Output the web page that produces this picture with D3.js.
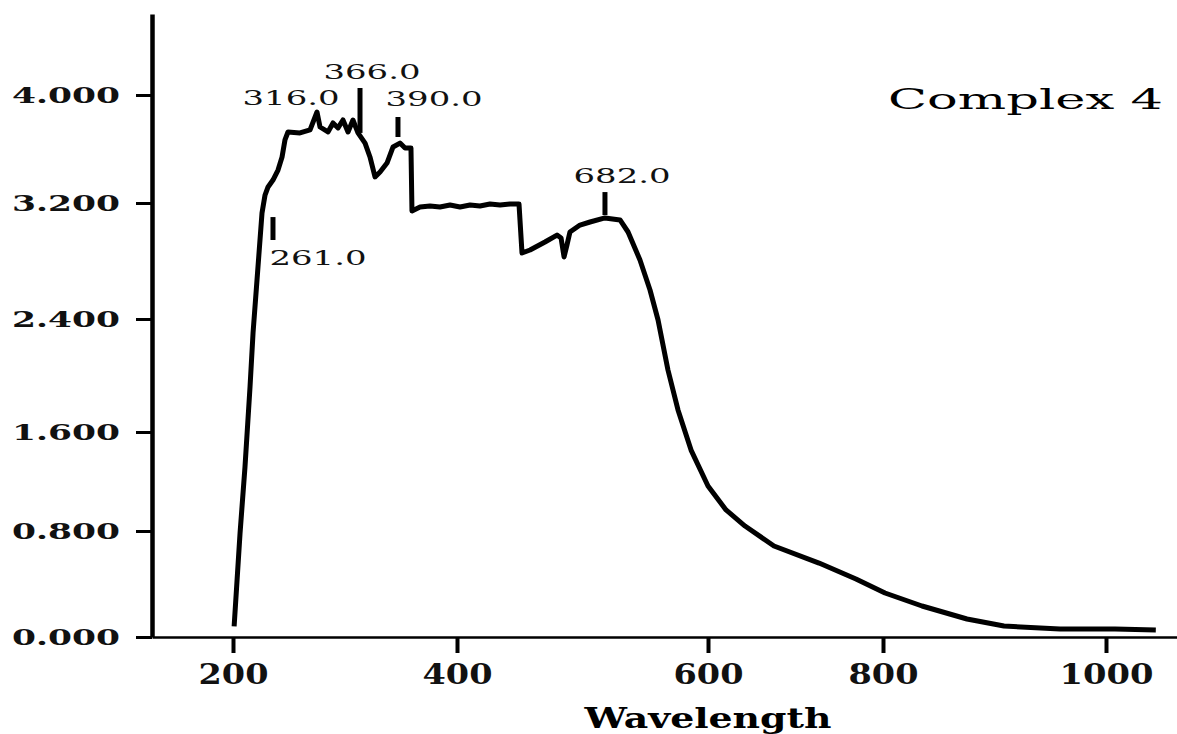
<!DOCTYPE html>
<html>
<head>
<meta charset="utf-8">
<style>
  body { margin: 0; background: #fff; }
  svg { display: block; }
  .axis text { font-family: "DejaVu Serif", serif; font-weight: bold; fill: #111; }
  .axis path, .axis line { stroke: #000; }
  .peak { font-family: "DejaVu Serif", serif; font-size: 21px; fill: #111; }
</style>
</head>
<body>
<script src="https://cdn.jsdelivr.net/npm/d3@7/dist/d3.min.js"></script>
<script>
// spectrum (wavelength vs absorbance)
var wavelength = [201, 206.3, 210.7, 215.2, 217.9, 222.3, 225.9, 228.6, 231.3, 235.7,
  240.2, 243.8, 246.4, 249.1, 259.8, 268.8, 275.0, 277.7, 284.8, 289.3,
  293.8, 298.2, 302.7, 307.1, 311.6, 317.9, 322.3, 326.8, 331.3, 337.5,
  342.9, 349.1, 353.6, 358.9, 359.8, 367.0, 375.9, 384.8, 393.8, 402.4,
  410.4, 418.3, 426.3, 434.3, 442.2, 449.4, 451.8, 458.2, 470.1, 479.7,
  482.9, 485.3, 487.6, 490.0, 498.0, 506.0, 517.9, 529.9, 536.3, 545.8,
  553.8, 560.2, 568.1, 576.1, 586.5, 600, 620.6, 642.3, 675.4, 726.9,
  769.1, 801.8, 835.0, 875.3, 908.5, 958.7, 1008.1, 1044.9];
var absorbance = [0.08, 0.785, 1.317, 1.919, 2.301, 2.759, 3.131, 3.259, 3.319, 3.370,
  3.444, 3.541, 3.667, 3.726, 3.719, 3.741, 3.874, 3.763, 3.726, 3.793,
  3.756, 3.815, 3.726, 3.815, 3.719, 3.644, 3.541, 3.393, 3.430, 3.496,
  3.615, 3.644, 3.607, 3.607, 3.145, 3.172, 3.179, 3.172, 3.186, 3.172,
  3.186, 3.179, 3.193, 3.186, 3.193, 3.193, 2.855, 2.876, 2.931, 2.979,
  2.959, 2.828, 2.910, 3.000, 3.048, 3.069, 3.097, 3.083, 3.000, 2.807,
  2.600, 2.393, 2.039, 1.756, 1.454, 1.164, 0.970, 0.840, 0.687, 0.558,
  0.438, 0.332, 0.234, 0.136, 0.083, 0.060, 0.060, 0.053];

// peak annotations
var peakNames = ["316.0", "366.0", "390.0", "682.0", "261.0"];
var peakTextX = [251.8, 324.1, 379.5, 531.5, 275.9];
var peakTextY = [3.926, 4.118, 3.919, 3.348, 2.772];
var markerX = [313.4, 347.3, 517.9, 235.7];
var markerTop = [4.052, 3.837, 3.281, 3.103];
var markerBottom = [3.719, 3.689, 3.117, 2.945];

var xTicks = [200, 400, 600, 800, 1000];
var yTicks = [0, 0.8, 1.6, 2.4, 3.2, 4.0];

var width = 1177, height = 734;

var svg = d3.select("body").append("svg")
  .attr("width", width)
  .attr("height", height);

// the scanned axes are not evenly spaced, so the scales are piecewise
var x = d3.scaleLinear()
  .domain([128, 200, 400, 600, 800, 1000, 1064])
  .range([152, 233, 457, 708, 883, 1106, 1177]);

var y = d3.scaleLinear()
  .domain([0, 0.8, 1.6, 2.4, 3.2, 4.0, 4.6])
  .range([637, 531, 432, 319, 203, 95, 14]);

var xAxis = svg.append("g")
  .attr("class", "axis")
  .attr("transform", "translate(0," + y(0) + ")")
  .call(d3.axisBottom(x).tickValues(xTicks).tickSize(16).tickSizeOuter(0).tickPadding(12)
    .tickFormat(d3.format("d")));
xAxis.select(".domain").attr("stroke-width", 2.5);
xAxis.selectAll(".tick line").attr("stroke-width", 4);
xAxis.selectAll(".tick text")
  .style("font-size", "27px")
  .attr("textLength", function(d) { return d >= 1000 ? 94 : 70; })
  .attr("lengthAdjust", "spacingAndGlyphs");

var yAxis = svg.append("g")
  .attr("class", "axis")
  .attr("transform", "translate(" + x(128) + ",0)")
  .call(d3.axisLeft(y).tickValues(yTicks).tickSize(16).tickSizeOuter(0).tickPadding(16)
    .tickFormat(d3.format(".3f")));
yAxis.select(".domain").attr("stroke-width", 4.5);
yAxis.selectAll(".tick line").attr("stroke-width", 3);
yAxis.selectAll(".tick text")
  .style("font-size", "23px")
  .attr("textLength", 108)
  .attr("lengthAdjust", "spacingAndGlyphs");

// spectrum
var line = d3.line()
  .x(function(d, i) { return x(wavelength[i]); })
  .y(function(d) { return y(d); });

svg.append("path")
  .datum(absorbance)
  .attr("d", line)
  .attr("fill", "none")
  .attr("stroke", "#000")
  .attr("stroke-width", 5)
  .attr("stroke-linejoin", "round");

// peak marker bars
svg.selectAll(".marker")
  .data(markerX)
  .enter().append("line")
  .attr("class", "marker")
  .attr("x1", function(d) { return x(d); })
  .attr("x2", function(d) { return x(d); })
  .attr("y1", function(d, i) { return y(markerTop[i]); })
  .attr("y2", function(d, i) { return y(markerBottom[i]); })
  .attr("stroke", "#000")
  .attr("stroke-width", 5);

svg.selectAll(".peak")
  .data(peakNames)
  .enter().append("text")
  .attr("class", "peak")
  .attr("x", function(d, i) { return x(peakTextX[i]); })
  .attr("y", function(d, i) { return y(peakTextY[i]); })
  .attr("text-anchor", "middle")
  .attr("textLength", 97)
  .attr("lengthAdjust", "spacingAndGlyphs")
  .text(function(d) { return d; });

svg.append("text")
  .attr("x", x(1000) + 57)
  .attr("y", y(4.0) + 14)
  .attr("text-anchor", "end")
  .style("font-family", "'DejaVu Serif', serif")
  .style("font-size", "28px")
  .attr("textLength", 275)
  .attr("lengthAdjust", "spacingAndGlyphs")
  .text("Complex 4");

svg.append("text")
  .attr("x", x(600))
  .attr("y", 728)
  .attr("text-anchor", "middle")
  .style("font-family", "'DejaVu Serif', serif")
  .style("font-weight", "bold")
  .style("font-size", "27px")
  .attr("textLength", 247)
  .attr("lengthAdjust", "spacingAndGlyphs")
  .text("Wavelength");
</script>
</body>
</html>
